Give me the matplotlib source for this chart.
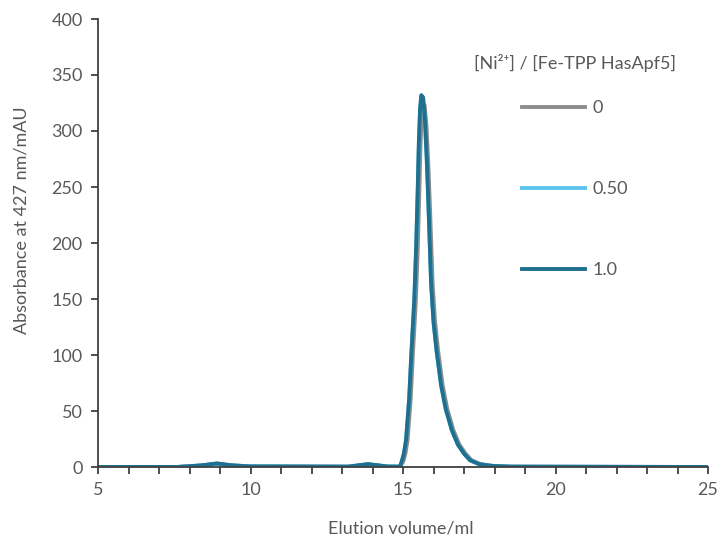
import matplotlib
matplotlib.use('Agg')
import matplotlib.pyplot as plt
from matplotlib.ticker import MultipleLocator, FuncFormatter

plt.rcParams['font.family'] = ['Lato', 'DejaVu Sans']

# elution profile (volume in ml, absorbance in mAU)
vol_blue = [5, 7.6, 8.4, 8.9, 9.4, 10.0, 13.2, 13.85, 14.5, 14.9,
            14.96, 15.03, 15.1, 15.2, 15.28, 15.37, 15.43, 15.48, 15.52, 15.56, 15.6,
            15.66, 15.72, 15.78, 15.84, 15.92, 16.0, 16.1, 16.25, 16.4, 16.6, 16.8,
            17.0, 17.2, 17.5, 17.9, 18.5, 25]
abs_10 = [0, 0, 1.5, 3.2, 1.5, 0.5, 0.3, 2.6, 0.4, 0.3,
          5, 12, 24, 60, 104, 149, 195, 245, 290, 320, 332,
          330, 310, 275, 230, 165, 130, 104, 73, 52, 33, 20,
          12, 6, 2.5, 1, 0.3, 0]
abs_05 = [0, 0, 1.4, 3.0, 1.4, 0.5, 0.3, 2.5, 0.4, 0.3,
          5, 12, 24, 60, 104, 149, 194, 243, 288, 318, 330,
          328, 308, 273, 229, 165, 130, 104, 73, 52, 33, 20,
          12, 6, 2.5, 1, 0.3, 0]
vol_gray = [v + 0.05 if 14.9 < v < 19 else v for v in vol_blue]
abs_0 = [0, 0, 1.3, 2.8, 1.3, 0.5, 0.3, 2.3, 0.4, 0.3,
         5, 12, 24, 60, 104, 148, 192, 240, 284, 314, 325,
         323, 304, 270, 227, 164, 130, 104, 73, 52, 33, 20,
         12, 6, 2.5, 1, 0.3, 0]

labels = ['0', '0.50', '1.0']
colors = ['#8c8c8c', '#5bc3ec', '#1f6f8f']

fig = plt.figure(figsize=(7.22, 5.45), dpi=100)
ax = fig.add_axes([98 / 722, 78 / 545, 610 / 722, 448 / 545])

ax.plot(vol_gray, abs_0, color=colors[0], lw=2.8, label=labels[0])
ax.plot(vol_blue, abs_05, color=colors[1], lw=2.8, label=labels[1])
ax.plot(vol_blue, abs_10, color=colors[2], lw=2.8, label=labels[2])

ax.set_xlim(5, 25)
ax.set_ylim(0, 400)
ax.xaxis.set_major_locator(MultipleLocator(1))
ax.xaxis.set_major_formatter(FuncFormatter(lambda v, p: f'{v:.0f}' if v % 5 == 0 else ''))
ax.yaxis.set_major_locator(MultipleLocator(50))

txt = '#595959'
fs = 13
for s in ['top', 'right']:
    ax.spines[s].set_visible(False)
for s in ['left', 'bottom']:
    ax.spines[s].set_color('#404040')
    ax.spines[s].set_linewidth(1.3)
ax.tick_params(direction='out', length=5, width=1.3, color='#404040',
               labelcolor=txt, labelsize=fs, pad=6)

ax.set_xlabel('Elution volume/ml', color=txt, fontsize=fs)
ax.set_ylabel('Absorbance at 427 nm/mAU', color=txt, fontsize=fs)
ax.xaxis.set_label_coords(0.497, -0.12)
ax.yaxis.set_label_coords(-0.113, 0.55)

leg = ax.legend(title='[Ni²⁺] / [Fe-TPP HasApf5]', loc='upper center',
                bbox_to_anchor=(575 / 722, 1 - 47 / 545), bbox_transform=fig.transFigure,
                frameon=False, fontsize=fs, title_fontsize=fs,
                labelspacing=3.6, handlelength=3.5, handletextpad=0.4,
                alignment='center', borderaxespad=0)
for t in leg.get_texts():
    t.set_color(txt)
leg.get_title().set_color(txt)
leg._legend_box.sep = 20

fig.savefig('out.png', dpi=100)
